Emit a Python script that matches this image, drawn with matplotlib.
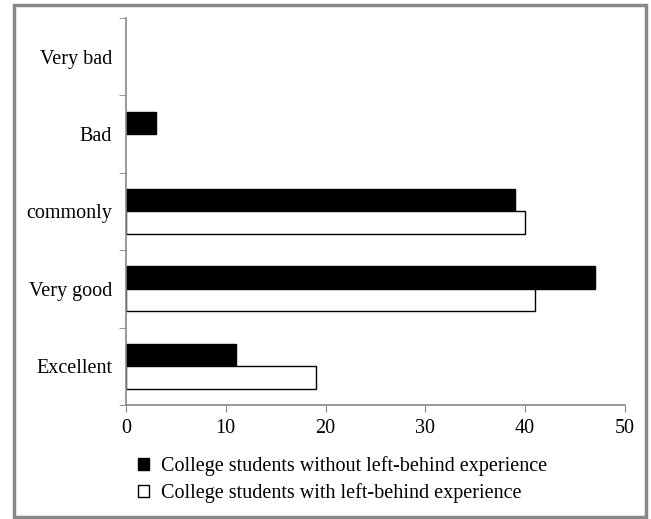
import numpy as np
import matplotlib.pyplot as plt
from matplotlib.patches import Patch, Rectangle

categories = ['Excellent', 'Very good', 'commonly', 'Bad', 'Very bad']
without_lb = [11, 47, 39, 3, 0]
with_lb = [19, 41, 40, 0, 0]
labels = ['College students without left-behind experience',
          'College students with left-behind experience']

plt.rcParams['font.family'] = ['Liberation Serif', 'DejaVu Serif']
plt.rcParams['font.size'] = 14.5

fig = plt.figure(figsize=(6.51, 5.19), dpi=100)
ax = fig.add_axes([0.1935, 0.2197, 0.7665, 0.7456])

y = np.arange(len(categories))
h = 0.29
# no outline on empty bars
lw_without = [1 if v else 0 for v in without_lb]
lw_with = [1 if v else 0 for v in with_lb]
ax.barh(y + h / 2, without_lb, height=h, color='black', edgecolor='black', linewidth=lw_without)
ax.barh(y - h / 2, with_lb, height=h, color='white', edgecolor='black', linewidth=lw_with)

ax.set_xlim(0, 50)
ax.set_ylim(-0.5, 4.5)
ax.set_xticks(np.arange(0, 51, 10))
ax.set_yticks(y)
ax.set_yticklabels(categories)
ax.set_yticks(np.arange(-0.5, 5, 1), minor=True)
ax.tick_params(axis='y', which='major', length=0, pad=10)
ax.tick_params(axis='y', which='minor', length=5, color='#888888', direction='out')
ax.tick_params(axis='x', length=5, color='#888888', direction='out', pad=5)
for s in ['top', 'right']:
    ax.spines[s].set_visible(False)
for s in ['left', 'bottom']:
    ax.spines[s].set_color('#888888')
    ax.spines[s].set_linewidth(1.2)

handles = [Patch(facecolor='black', edgecolor='black'),
           Patch(facecolor='white', edgecolor='black')]
fig.legend(handles, labels, loc='upper left', bbox_to_anchor=(0.196, 0.14),
           frameon=False, handlelength=0.55, handleheight=0.55,
           handletextpad=0.6, labelspacing=0.35, borderpad=0)

fig.patches.append(Rectangle((0.021, 0.003), 0.971, 0.987, transform=fig.transFigure,
                             fill=False, edgecolor='#888888', linewidth=2.5))

fig.savefig('out.png', dpi=100)
